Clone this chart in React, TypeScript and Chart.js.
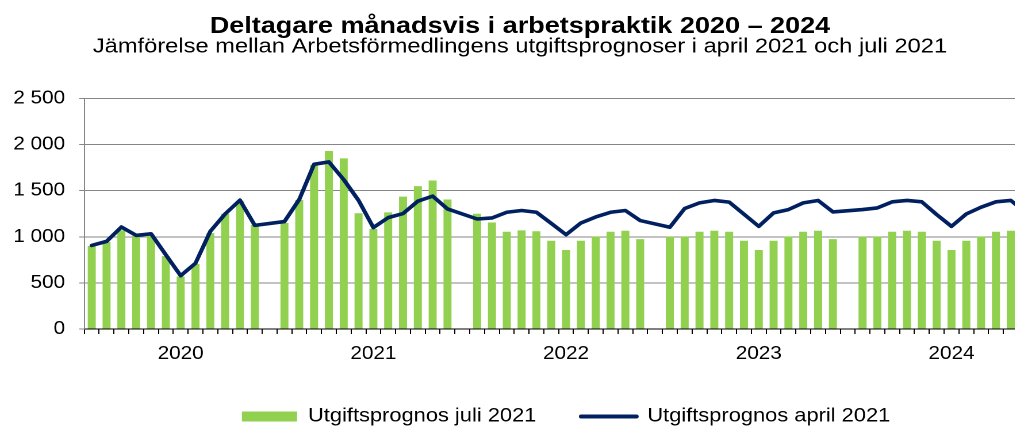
import React, { useEffect, useRef } from 'react';
import { Chart, registerables } from 'chart.js';

Chart.register(...registerables);

// ---- data ----
const years = ['2020', '2021', '2022', '2023', '2024'];
const months = ['jan', 'feb', 'mar', 'apr', 'maj', 'jun', 'jul', 'aug', 'sep', 'okt', 'nov', 'dec'];

// Utgiftsprognos juli 2021 (bars)
const juli2020 = [900, 945, 1070, 1010, 1020, 790, 570, 705, 1040, 1250, 1390, 1130];
const juli2021 = [1150, 1400, 1780, 1930, 1850, 1255, 1085, 1265, 1435, 1550, 1610, 1405];
const juli2022 = [1250, 1155, 1055, 1070, 1060, 957, 857, 957, 1004, 1055, 1066, 975];
const juli2023 = [1000, 1005, 1055, 1066, 1055, 957, 857, 957, 1004, 1055, 1066, 975];
const juli2024 = [1000, 1005, 1055, 1066, 1055, 957, 857, 957, 1004, 1055, 1066, 975];

// Utgiftsprognos april 2021 (line)
const april2020 = [906, 950, 1106, 1015, 1033, 804, 578, 713, 1059, 1248, 1397, 1124];
const april2021 = [1165, 1405, 1787, 1812, 1620, 1395, 1100, 1208, 1252, 1386, 1441, 1302];
const april2022 = [1193, 1204, 1266, 1285, 1266, 1145, 1023, 1150, 1215, 1266, 1285, 1176];
const april2023 = [1103, 1307, 1368, 1394, 1376, 1245, 1113, 1259, 1295, 1368, 1394, 1270];
const april2024 = [1295, 1313, 1379, 1394, 1379, 1241, 1113, 1248, 1321, 1379, 1394, 1265];

const yTicks = [0, 500, 1000, 1500, 2000, 2500];

const TITLE = 'Deltagare månadsvis i arbetspraktik 2020 – 2024';
const SUBTITLE = 'Jämförelse mellan Arbetsförmedlingens utgiftsprognoser i april 2021 och juli 2021';
const BAR_LABEL = 'Utgiftsprognos juli 2021';
const LINE_LABEL = 'Utgiftsprognos april 2021';

// build tables: each year has 12 months + one empty slot
const juliYears = [juli2020, juli2021, juli2022, juli2023, juli2024];
const aprilYears = [april2020, april2021, april2022, april2023, april2024];
const labels: string[] = [];
const barData: (number | null)[] = [];
const lineData: (number | null)[] = [];
years.forEach((y, yi) => {
  months.forEach((m, mi) => {
    labels.push(`${m} ${y}`);
    barData.push(juliYears[yi][mi]);
    lineData.push(aprilYears[yi][mi]);
  });
  labels.push('');
  barData.push(null);
  lineData.push(null);
});

const FONT = "'Liberation Sans', Arial, sans-serif";
const CSS_W = 1043;
const INT_W = 907;
const H = 430;

const fmt = (v: number) =>
  v >= 1000 ? `${Math.floor(v / 1000)} ${String(v % 1000).padStart(3, '0')}` : String(v);

export default function App() {
  const ref = useRef<HTMLCanvasElement>(null);
  useEffect(() => {
    if (!ref.current) return;
    const chart = new Chart(ref.current, {
      type: 'bar',
      data: {
        labels,
        datasets: [
          {
            type: 'bar',
            label: BAR_LABEL,
            data: barData,
            backgroundColor: '#92D050',
            borderWidth: 0,
            barPercentage: 0.54,
            categoryPercentage: 1,
            order: 2,
          } as any,
          {
            type: 'line',
            label: LINE_LABEL,
            data: lineData,
            borderColor: '#002060',
            backgroundColor: '#002060',
            borderWidth: 3.6,
            pointRadius: 0,
            pointHoverRadius: 0,
            tension: 0,
            spanGaps: true,
            order: 1,
            borderJoinStyle: 'round',
            borderCapStyle: 'round',
          } as any,
        ],
      },
      options: {
        responsive: false,
        animation: false,
        devicePixelRatio: 2,
        layout: { padding: { left: -16.6, right: 0, top: 0, bottom: 2 } },
        plugins: {
          title: {
            display: true,
            text: TITLE,
            color: '#000',
            font: { family: FONT, size: 23.5, weight: 'bold', lineHeight: 0.8 },
            padding: { top: 9, bottom: 0 },
          },
          subtitle: {
            display: true,
            text: SUBTITLE,
            color: '#000',
            font: { family: FONT, size: 20.6, weight: 'normal', lineHeight: 0.8 },
            padding: { top: 3, bottom: 43.2 },
          },
          legend: {
            position: 'bottom',
            fullSize: false,
            labels: {
              color: '#000',
              font: { family: FONT, size: 19 },
              usePointStyle: true,
              pointStyleWidth: 48,
              boxHeight: 10,
              padding: 39,
              generateLabels: (c: any) => {
                const items = Chart.defaults.plugins.legend.labels.generateLabels(c);
                items.forEach((it: any) => {
                  if (it.datasetIndex === 0) {
                    it.pointStyle = 'rect';
                    it.fillStyle = '#92D050';
                    it.lineWidth = 0;
                  } else {
                    it.pointStyle = 'line';
                    it.strokeStyle = '#002060';
                    it.lineWidth = 4;
                    it.lineCap = 'round';
                  }
                });
                return items;
              },
              sort: (a: any, b: any) => a.datasetIndex - b.datasetIndex,
            },
          },
          tooltip: { enabled: false },
        },
        scales: {
          x: {
            type: 'category',
            offset: true,
            grid: {
              display: true,
              drawOnChartArea: false,
              drawTicks: true,
              tickLength: 5,
              color: '#000',
              offset: true,
            },
            border: { display: true, color: '#000', width: 1 },
            ticks: {
              autoSkip: false,
              maxRotation: 0,
              minRotation: 0,
              padding: 9.2,
              color: '#000',
              font: { family: FONT, size: 18 },
              callback: (_v: any, i: number) => (i % 13 === 6 ? years[Math.floor(i / 13)] : ''),
            },
            afterFit: (s: any) => {
              s.height = 39;
            },
          },
          y: {
            min: yTicks[0],
            max: yTicks[yTicks.length - 1],
            afterBuildTicks: (s: any) => {
              s.ticks = yTicks.map((v) => ({ value: v }));
            },
            grid: { color: '#868686', lineWidth: 1, drawTicks: true, tickLength: 4.4 },
            border: { display: true, color: '#868686', width: 1 },
            ticks: {
              padding: 12.3,
              color: '#000',
              font: { family: FONT, size: 18 },
              callback: (v: any) => fmt(Number(v)),
            },
            afterFit: (s: any) => {
              s.width = 82.95;
            },
          },
        },
      } as any,
    });
    return () => chart.destroy();
  }, []);

  return (
    <div style={{ position: 'relative', width: 1015, height: 421, overflow: 'hidden' }}>
      <canvas
        ref={ref}
        width={INT_W}
        height={H}
        style={{ width: `${CSS_W}px`, height: `${H}px`, display: 'block' }}
      />
    </div>
  );
}
